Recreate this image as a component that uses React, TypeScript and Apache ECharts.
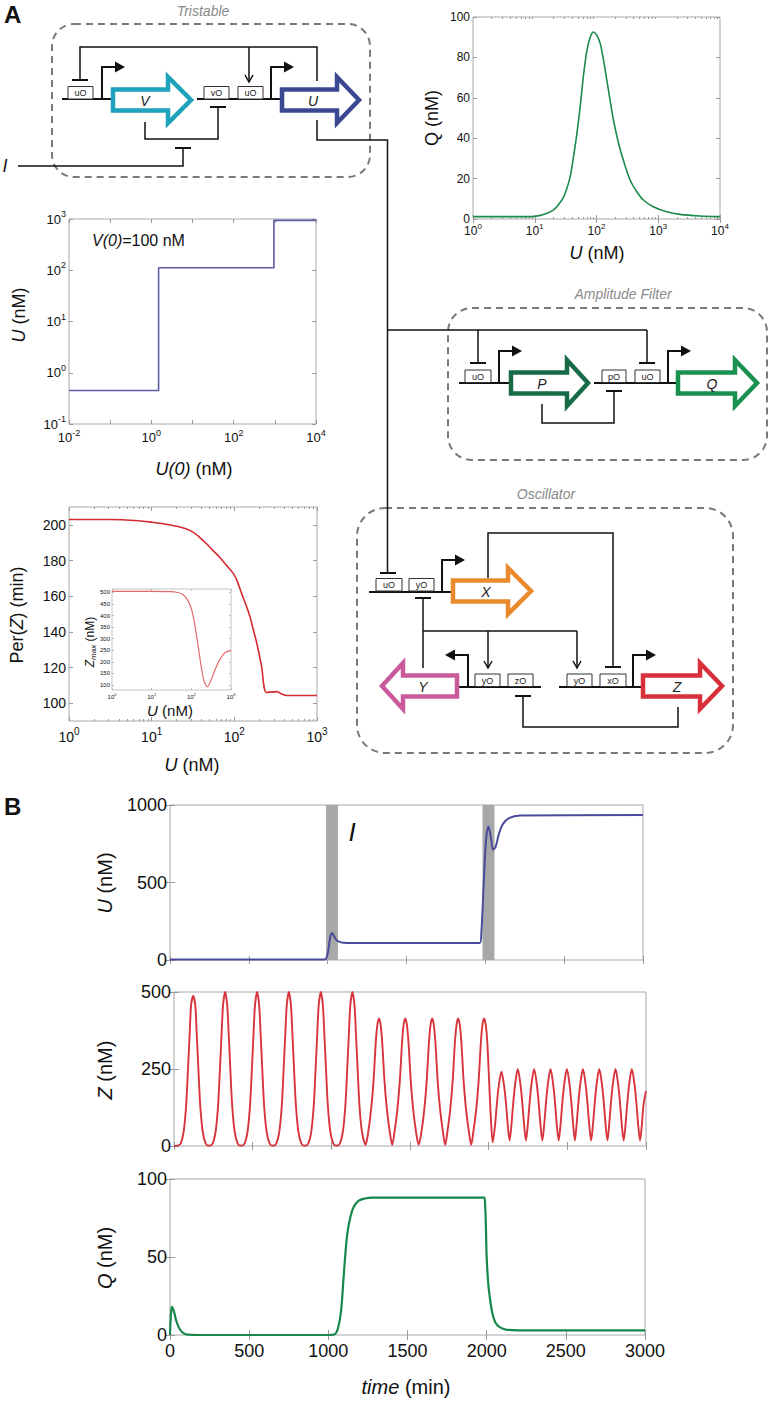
import React, { useEffect, useRef } from "react";
import * as echarts from "echarts";

// ---------------- DATA ----------------
// Panel A top-right: steady state Q vs U
const qCurveU = [1, 3, 8.5, 12.3, 15.8, 20, 24, 29.4, 33, 37.5, 42.5, 48, 55, 62, 70, 79, 89, 101, 115, 130, 147, 166, 188, 228, 273, 350, 450, 575, 830, 1370, 2240, 4760, 10000];
const qCurveQ = [1.2, 1.2, 1.2, 1.8, 2.8, 4.4, 6.9, 11, 15, 21, 31, 42, 57, 72, 83.5, 90, 92.6, 91, 86.8, 78.6, 68.7, 58.8, 49, 37.4, 29, 19.3, 13.5, 9.4, 6.1, 3.6, 2.3, 1.5, 1.2];

// Panel A middle-left: steady state U vs U(0) (V(0)=100 nM)
const stepU0 = [0.01, 1.5, 1.5, 950, 950, 10000];
const stepU = [0.45, 0.45, 112, 112, 940, 940];

// Panel A bottom-left: Per(Z) vs U
const perU = [1, 3.2, 7, 10, 14, 18, 22, 26, 32, 38, 46, 55, 66, 80, 97, 107, 122, 141, 154, 170, 186, 213, 245, 323, 372, 427, 1000];
const perZ = [203, 203, 202.3, 201.5, 200.6, 199.6, 198.8, 197.8, 195.8, 193, 189.4, 185.7, 182, 177.4, 172.8, 169, 161.7, 154, 148.7, 141, 134, 121, 106, 106.5, 105.2, 104.3, 104.3];

// inset: Zmax vs U
const zmaxU = [1, 10, 30, 45, 60, 80, 100, 120, 145, 170, 190, 210, 255, 320, 372, 450, 537, 724, 1000];
const zmaxZ = [505, 505, 504, 500, 492, 468, 430, 368, 280, 200, 150, 116, 92, 125, 153, 188, 213, 241, 248];

// Panel B: time courses
const uTimes = [0, 980, 993, 1005, 1017, 1029, 1040, 1055, 1075, 1100, 1150, 1965, 1975, 1990, 2005, 2020, 2035, 2050, 2065, 2085, 2110, 2150, 2220, 3000];
const uValues = [3, 3, 15, 70, 150, 175, 155, 130, 117, 112, 110, 110, 180, 500, 780, 862, 790, 712, 730, 810, 875, 915, 932, 935];
const pulseStart = [990, 1982];
const pulseEnd = [1065, 2058];

const zTrace = [
  [0, 0], [22, 1], [42, 8], [61, 45], [77, 130], [89, 250], [100, 370], [109, 458], [122, 487], [135, 458], [144, 370], [155, 250], [167, 130], [183, 45], [202, 8], [223, 1],
  [245, 8], [264, 45], [280, 130], [292, 250], [303, 370], [312, 458], [325, 500], [338, 458], [347, 370], [358, 250], [370, 130], [386, 45], [405, 8], [426, 1],
  [448, 8], [467, 45], [483, 130], [495, 250], [506, 370], [515, 458], [528, 500], [541, 458], [550, 370], [561, 250], [573, 130], [589, 45], [608, 8], [629, 1],
  [650, 8], [669, 45], [685, 130], [697, 250], [708, 370], [717, 458], [730, 500], [743, 458], [752, 370], [763, 250], [775, 130], [791, 45], [810, 8], [831, 1],
  [853, 8], [872, 45], [888, 130], [900, 250], [911, 370], [920, 458], [933, 500], [946, 458], [955, 370], [966, 250], [978, 130], [994, 45], [1013, 8], [1033, 1],
  [1054, 8], [1073, 45], [1089, 130], [1101, 250], [1112, 370], [1121, 458], [1134, 500], [1147, 458], [1156, 370], [1167, 250], [1179, 130], [1195, 45], [1218, 4],
  [1233, 40], [1253, 120], [1268, 210], [1283, 340], [1293, 395], [1303, 414], [1313, 395], [1323, 340], [1338, 210], [1353, 120], [1373, 40], [1387, 4],
  [1400, 40], [1420, 120], [1435, 210], [1450, 340], [1460, 395], [1470, 414], [1480, 395], [1490, 340], [1505, 210], [1520, 120], [1540, 40], [1555, 4],
  [1571, 40], [1591, 120], [1606, 210], [1621, 340], [1631, 395], [1641, 414], [1651, 395], [1661, 340], [1676, 210], [1691, 120], [1711, 40], [1724, 4],
  [1736, 40], [1756, 120], [1771, 210], [1786, 340], [1796, 395], [1806, 414], [1816, 395], [1826, 340], [1841, 210], [1856, 120], [1876, 40], [1889, 4],
  [1901, 40], [1921, 120], [1936, 210], [1951, 340], [1961, 395], [1971, 414], [1981, 395], [1991, 340], [2003, 210], [2013, 100], [2026, 12],
  [2041, 70], [2051, 130], [2064, 195], [2081, 241], [2098, 195], [2111, 133], [2121, 70], [2133, 18],
  [2145, 70], [2155, 133], [2168, 200], [2185, 250], [2202, 200], [2215, 133], [2225, 70], [2237, 18],
  [2249, 70], [2259, 133], [2272, 200], [2289, 250], [2306, 200], [2319, 133], [2329, 70], [2341, 18],
  [2353, 70], [2363, 133], [2376, 200], [2393, 250], [2410, 200], [2423, 133], [2433, 70], [2445, 18],
  [2457, 70], [2467, 133], [2480, 200], [2497, 250], [2514, 200], [2527, 133], [2537, 70], [2548, 18],
  [2559, 70], [2569, 133], [2582, 200], [2599, 250], [2616, 200], [2629, 133], [2639, 70], [2651, 18],
  [2663, 70], [2673, 133], [2686, 200], [2703, 250], [2720, 200], [2733, 133], [2743, 70], [2755, 18],
  [2766, 70], [2776, 133], [2789, 200], [2806, 250], [2823, 200], [2836, 133], [2846, 70], [2858, 18],
  [2870, 70], [2880, 133], [2893, 200], [2910, 250], [2927, 200], [2940, 133], [2950, 70], [2962, 18],
  [2974, 70], [2984, 133], [3000, 178],
];

const qTimes = [0, 4, 12, 25, 40, 60, 85, 115, 200, 1000, 1040, 1060, 1080, 1095, 1106, 1120, 1140, 1160, 1190, 1230, 1280, 1985, 1990, 1995, 2000, 2010, 2020, 2036, 2055, 2082, 2120, 2200, 3000];
const qValues = [0, 10, 18, 15, 9, 4, 1.2, 0.2, 0, 0, 0.5, 4, 15, 35, 50, 65, 76, 82, 86, 87.5, 88, 88, 84, 70, 50, 33, 24, 14, 8, 5, 3.5, 3, 3];

// tick values
const decadesQU = [1, 10, 100, 1000, 10000];
const decadesU0 = [0.01, 0.1, 1, 10, 100, 1000, 10000];
const labelsU0 = [0.01, 1, 100, 10000];
const decadesUy = [0.1, 1, 10, 100, 1000];
const decadesPer = [1, 10, 100, 1000];
const ticksQ = [0, 20, 40, 60, 80, 100];
const ticksPer = [100, 120, 140, 160, 180, 200];
const ticksZmax = [100, 150, 200, 250, 300, 350, 400, 450, 500];
const ticksTime = [0, 500, 1000, 1500, 2000, 2500, 3000];
const ticksUt = [0, 500, 1000];
const ticksZt = [0, 250, 500];
const ticksQt = [0, 50, 100];
const minorMultipliers = [2, 3, 4, 5, 6, 7, 8, 9];

// ---------------- STYLE HELPERS ----------------
const FONT = "'Liberation Sans', Arial, Helvetica, sans-serif";
const INK = "#111";
const FRAME = "#9a9a9a";
const zip = (a: number[], b: number[]) => a.map((v, i) => [v, b[i]]);
const minorTicks = (decades: number[]) => decades.slice(0, -1).flatMap((d) => minorMultipliers.map((m) => d * m));

function logRich(fs: number) {
  return {
    b: { fontSize: fs, fontFamily: FONT, color: INK },
    s: { fontSize: Math.round(fs * 0.68), fontFamily: FONT, color: INK, padding: [0, 0, Math.round(fs * 0.8), 0] },
  };
}
const logFmt = (v: number) => `{b|10}{s|${Math.round(Math.log10(v))}}`;
const plainFmt = (v: number) => String(v);

function axisPair(kind: "x" | "y", gi: number, base: any, tickVals: number[], labelVals: number[] | null, fs: number, opt: any = {}) {
  const common = { gridIndex: gi, ...base, splitLine: { show: false }, axisLine: { show: false } };
  const tick = { show: true, inside: true, length: opt.tickLen || 4, customValues: tickVals, lineStyle: { color: opt.frame || FRAME, width: 1 } };
  const primary: any = {
    ...common,
    position: kind === "x" ? "bottom" : "left",
    axisTick: tick,
    axisLabel: labelVals
      ? {
          show: true,
          customValues: labelVals,
          fontSize: fs,
          fontFamily: FONT,
          color: INK,
          margin: opt.margin ?? 4,
          formatter: opt.log ? logFmt : plainFmt,
          rich: opt.log ? logRich(fs) : undefined,
        }
      : { show: false },
  };
  const mirror: any = { ...common, position: kind === "x" ? "top" : "right", axisTick: tick, axisLabel: { show: false } };
  return [primary, mirror];
}

function T(x: number, y: number, text: string, size: number, o: any = {}) {
  const align = o.align || "center";
  const va = o.va || "middle";
  return {
    type: "text",
    x,
    y,
    rotation: o.rot || 0,
    silent: true,
    z: 20,
    style: {
      text,
      x: 0,
      y: 0,
      fontSize: size,
      fontFamily: o.family || FONT,
      fontStyle: o.italic ? "italic" : "normal",
      fontWeight: o.bold ? "bold" : "normal",
      fill: o.color || INK,
      align,
      verticalAlign: va,
      textAlign: align,
      textVerticalAlign: va,
      rich: o.rich,
    },
  };
}
const richTitle = (fs: number) => ({
  i: { fontSize: fs, fontFamily: FONT, fontStyle: "italic", fill: INK, color: INK },
  n: { fontSize: fs, fontFamily: FONT, fill: INK, color: INK },
  sub: { fontSize: Math.round(fs * 0.7), fontFamily: FONT, fontStyle: "italic", fill: INK, color: INK, padding: [Math.round(fs * 0.5), 0, 0, 0] },
});

// diagram primitives
const LW = 1.5;
const ln = (x1: number, y1: number, x2: number, y2: number, w = LW) => ({ type: "line", silent: true, z: 10, shape: { x1, y1, x2, y2 }, style: { stroke: INK, lineWidth: w } });
const pl = (points: number[][], w = LW) => ({ type: "polyline", silent: true, z: 10, shape: { points }, style: { stroke: INK, lineWidth: w, fill: null } });
const tbar = (cx: number, y: number) => ln(cx - 8, y, cx + 8, y, 2);
const downArrow = (x: number, y1: number, y2: number) => [ln(x, y1, x, y2), pl([[x - 4, y2 - 7], [x, y2], [x + 4, y2 - 7]])];
function opBox(x: number, y: number, w: number, label: string) {
  return [
    { type: "rect", silent: true, z: 11, shape: { x, y, width: w, height: 12.5 }, style: { fill: "#fff", stroke: "#333", lineWidth: 1 } },
    T(x + w / 2, y + 6.5, label, 9, { color: "#222" }),
  ];
}
function promoter(x: number, y: number, dir = 1) {
  const top = y - 32;
  const end = x + dir * 13;
  return [
    pl([[x, y], [x, top], [end, top]], 2),
    { type: "polygon", silent: true, z: 10, shape: { points: [[end, top - 5.5], [end + dir * 10, top], [end, top + 5.5]] }, style: { fill: INK } },
  ];
}
function gene(x0: number, xh: number, x1: number, cy: number, color: string, label: string, lx: number) {
  const bh = 10.5, hh = 23;
  return [
    {
      type: "polygon",
      silent: true,
      z: 12,
      shape: { points: [[x0, cy - bh], [xh, cy - bh], [xh, cy - hh], [x1, cy], [xh, cy + hh], [xh, cy + bh], [x0, cy + bh]] },
      style: { fill: "#fff", stroke: color, lineWidth: 4.5, lineJoin: "miter" },
    },
    T(lx, cy + 1, label, 14, { italic: true, color: "#222" }),
  ];
}
const dashBox = (x: number, y: number, w: number, h: number, r: number) => ({
  type: "rect",
  silent: true,
  z: 5,
  shape: { x, y, width: w, height: h, r },
  style: { fill: null, stroke: "#7a7a7a", lineWidth: 2, lineDash: [7, 5] },
});

function buildGraphics() {
  const g: any[] = [];
  const add = (...items: any[]) => items.forEach((it) => (Array.isArray(it) ? g.push(...it) : g.push(it)));
  // panel letters
  add(T(4, 14, "A", 24, { bold: true, align: "left" }));
  add(T(4, 806, "B", 24, { bold: true, align: "left" }));

  // ---- Tristable ----
  add(dashBox(52, 24, 318, 153, 22));
  add(T(203, 11, "Tristable", 14, { italic: true, color: "#8a8a8a" }));
  add(ln(62, 99, 115, 99, 2), opBox(68, 86.5, 25, "uO"), promoter(102, 99));
  add(pl([[80, 80], [80, 47], [317, 47], [317, 81]]), tbar(80, 80));
  add(downArrow(249, 47, 82));
  add(ln(197, 99, 282, 99, 2), opBox(204, 86.5, 25, "vO"), opBox(238, 86.5, 25, "uO"), promoter(271, 99));
  add(gene(113, 168, 191, 100, "#1ea2bd", "V", 145));
  add(gene(282, 337, 359, 100, "#3a4892", "U", 313));
  add(pl([[145, 122], [145, 139], [218, 139], [218, 107]]), tbar(218, 107));
  add(T(5, 166, "I", 18, { italic: true }));
  add(pl([[18, 166], [183, 166], [183, 148]]), tbar(183, 148));
  add(pl([[317, 120], [317, 140], [387.5, 140], [387.5, 573]]), tbar(388, 573));

  // ---- Amplitude filter ----
  add(dashBox(448, 308, 319, 152, 24));
  add(T(623, 294, "Amplitude Filter", 14, { italic: true, color: "#8a8a8a" }));
  add(ln(387.5, 330, 647, 330));
  add(ln(478, 330, 478, 363), tbar(478, 363), ln(647, 330, 647, 363), tbar(647, 363));
  add(ln(459, 383, 511, 383, 2), opBox(465, 370, 26, "uO"), promoter(499, 383));
  add(ln(594, 383, 678, 383, 2), opBox(602, 370, 24, "pO"), opBox(635, 370, 25, "uO"), promoter(668, 383));
  add(gene(511, 567, 588, 383, "#176b47", "P", 542));
  add(gene(678, 735, 757, 383, "#1b9150", "Q", 712));
  add(pl([[542, 404], [542, 423], [614, 423], [614, 391]]), tbar(614, 391));

  // ---- Oscillator ----
  add(dashBox(357, 508, 376, 245, 28));
  add(T(546, 494, "Oscillator", 14, { italic: true, color: "#8a8a8a" }));
  add(ln(369, 592, 453, 592, 2), opBox(376, 578.5, 26, "uO"), opBox(409, 578.5, 25, "yO"), promoter(442, 592));
  add(gene(453, 508, 531, 591, "#e98a2d", "X", 486));
  add(tbar(423, 598), ln(423, 598, 423, 668), ln(423, 631, 577, 631));
  add(downArrow(488, 631, 668), downArrow(577, 631, 668));
  add(pl([[488, 578], [488, 533], [613, 533], [613, 667]]), tbar(613, 667));
  add(ln(457, 687, 541, 687, 2), opBox(475, 674, 25, "yO"), opBox(508, 674, 25, "zO"), promoter(468, 687, -1));
  add(gene(457, 403, 382, 686, "#c95b9c", "Y", 423));
  add(ln(559, 687, 643, 687, 2), opBox(567, 674, 25, "yO"), opBox(600, 674, 26, "xO"), promoter(633, 687));
  add(gene(643, 700, 722, 686, "#d8303a", "Z", 677));
  add(pl([[678, 707], [678, 727], [523, 727], [523, 696]]), tbar(523, 696));

  // ---- axis titles, panel A ----
  add(T(432, 118, "Q (nM)", 18, { rot: Math.PI / 2 }));
  add(T(597, 253, "{i|U}{n| (nM)}", 18, { rich: richTitle(18) }));
  add(T(19, 315, "{i|U}{n| (nM)}", 18, { rot: Math.PI / 2, rich: richTitle(18) }));
  add(T(194, 469, "{i|U(0)}{n| (nM)}", 18, { rich: richTitle(18) }));
  add(T(92, 240, "{i|V(0)}{n|=100 nM}", 16, { align: "left", rich: richTitle(16) }));
  add(T(17, 615, "{n|Per(}{i|Z}{n|) (min)}", 18, { rot: Math.PI / 2, rich: richTitle(18) }));
  add(T(192, 765, "{i|U}{n| (nM)}", 18, { rich: richTitle(18) }));
  add(T(90, 642, "{i|Z}{sub|max}{n| (nM)}", 12, { rot: Math.PI / 2, rich: richTitle(12) }));
  add(T(170, 710, "{i|U}{n| (nM)}", 15, { rich: richTitle(15) }));

  // ---- panel B titles ----
  add(T(105, 883, "{i|U}{n| (nM)}", 20, { rot: Math.PI / 2, rich: richTitle(20) }));
  add(T(105, 1070, "{i|Z}{n| (nM)}", 20, { rot: Math.PI / 2, rich: richTitle(20) }));
  add(T(105, 1258, "{i|Q}{n| (nM)}", 20, { rot: Math.PI / 2, rich: richTitle(20) }));
  add(T(406, 1387, "{i|time}{n| (min)}", 20, { rich: richTitle(20) }));
  add(T(352, 832, "I", 26, { italic: true }));
  return g;
}

function buildOption() {
  const grids = [
    { left: 473, top: 17, width: 247, height: 202 },
    { left: 69, top: 219, width: 247, height: 205 },
    { left: 69, top: 507, width: 248, height: 214 },
    { left: 112, top: 589, width: 119, height: 101 },
    { left: 170, top: 805, width: 473, height: 155 },
    { left: 174, top: 992, width: 472, height: 154 },
    { left: 170, top: 1179, width: 475, height: 156 },
  ].map((g, i) => ({
    ...g,
    show: true,
    backgroundColor: "#fff",
    borderColor: i === 3 ? "#c4c4c4" : "#a8a8a8",
    borderWidth: 1,
    containLabel: false,
    outerBoundsMode: "none",
  }));

  const xs: any[] = [];
  const ys: any[] = [];
  const logBase = (min: number, max: number) => ({ type: "log", logBase: 10, min, max });
  const linBase = (min: number, max: number) => ({ type: "value", min, max });

  xs.push(...axisPair("x", 0, logBase(1, 10000), decadesQU, decadesQU, 12, { log: true, margin: 3 }));
  ys.push(...axisPair("y", 0, linBase(0, 100), ticksQ, ticksQ, 12, { margin: 3 }));
  xs.push(...axisPair("x", 1, logBase(0.01, 10000), decadesU0, labelsU0, 13, { log: true, margin: 4 }));
  ys.push(...axisPair("y", 1, logBase(0.1, 1000), decadesUy, decadesUy, 13, { log: true, margin: 3 }));
  xs.push(...axisPair("x", 2, logBase(1, 1000), decadesPer, decadesPer, 14, { log: true, margin: 5 }));
  ys.push(...axisPair("y", 2, linBase(90, 210), ticksPer, ticksPer, 14, { margin: 3 }));
  xs.push(...axisPair("x", 3, logBase(1, 1000), decadesPer, decadesPer, 6, { log: true, margin: 2, tickLen: 2, frame: "#bbb" }));
  ys.push(...axisPair("y", 3, linBase(78, 515), ticksZmax, ticksZmax, 6, { margin: 2, tickLen: 2, frame: "#bbb" }));
  xs.push(...axisPair("x", 4, linBase(0, 3000), ticksTime, null, 18));
  ys.push(...axisPair("y", 4, linBase(0, 1000), ticksUt, ticksUt, 18, { margin: 3, tickLen: 5 }));
  xs.push(...axisPair("x", 5, linBase(0, 3000), ticksTime, null, 18));
  ys.push(...axisPair("y", 5, linBase(0, 500), ticksZt, ticksZt, 18, { margin: 3, tickLen: 5 }));
  xs.push(...axisPair("x", 6, linBase(0, 3000), ticksTime, ticksTime, 18, { margin: 7, tickLen: 5 }));
  ys.push(...axisPair("y", 6, linBase(0, 100), ticksQt, ticksQt, 18, { margin: 3, tickLen: 5 }));
  // minor log ticks (appended after the main pairs so series indices stay 2*gi)
  xs.push(...axisPair("x", 0, logBase(1, 10000), minorTicks(decadesQU), null, 12, { tickLen: 2 }));
  xs.push(...axisPair("x", 2, logBase(1, 1000), minorTicks(decadesPer), null, 12, { tickLen: 2 }));

  const line = (gi: number, data: number[][], color: string, width: number, smooth: number | boolean, extra: any = {}) => ({
    type: "line",
    xAxisIndex: gi * 2,
    yAxisIndex: gi * 2,
    data,
    showSymbol: false,
    symbol: "none",
    smooth,
    lineStyle: { color, width },
    itemStyle: { color },
    silent: true,
    z: 3,
    ...extra,
  });

  const series = [
    line(0, zip(qCurveU, qCurveQ), "#1b8a4c", 1.6, 0.3),
    line(1, zip(stepU0, stepU), "#5c5ca3", 1.6, false),
    line(2, zip(perU, perZ), "#d42b30", 1.6, 0.3),
    line(3, zip(zmaxU, zmaxZ), "#e26c6c", 1.2, 0.25),
    line(4, zip(uTimes, uValues), "#4b4b9c", 2, 0.35, {
      markArea: {
        silent: true,
        z: 1,
        itemStyle: { color: "#a8a8a8" },
        data: pulseStart.map((s, i) => [{ xAxis: s }, { xAxis: pulseEnd[i] }]),
      },
    }),
    line(5, zTrace, "#d8343c", 1.9, 0.3),
    line(6, zip(qTimes, qValues), "#17884a", 2.2, 0.35),
  ];

  return {
    animation: false,
    backgroundColor: "#fff",
    grid: grids,
    xAxis: xs,
    yAxis: ys,
    series,
    graphic: { elements: buildGraphics() },
  };
}

export default function App() {
  const ref = useRef<HTMLDivElement>(null);
  useEffect(() => {
    document.body.style.margin = "0";
    document.body.style.overflow = "hidden";
    const chart = echarts.init(ref.current!, undefined, { renderer: "svg" });
    chart.setOption(buildOption() as any);
    return () => chart.dispose();
  }, []);
  return <div ref={ref} style={{ width: 771, height: 1401, background: "#fff" }} />;
}
